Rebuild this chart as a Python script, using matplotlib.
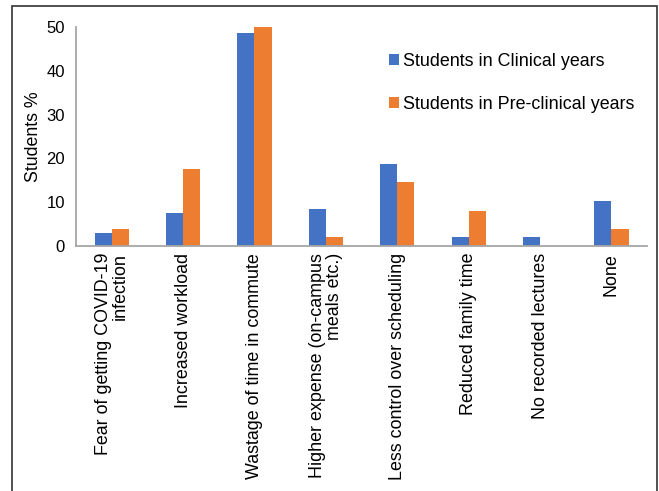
import numpy as np
import matplotlib.pyplot as plt
from matplotlib.patches import Rectangle

#--------------------------------------------------------------------------------------------------------------------------------
#Datos
categorias = ['Fear of getting COVID-19\ninfection', 'Increased workload', 'Wastage of time in commute',
              'Higher expense (on-campus\nmeals etc.)', 'Less control over scheduling', 'Reduced family time',
              'No recorded lectures', 'None']
clinicos = [3.0, 7.6, 48.6, 8.4, 18.7, 2.0, 2.0, 10.3]
preclinicos = [3.9, 17.6, 50.7, 2.0, 14.6, 8.0, 0.0, 3.9]
yticks = [0, 10, 20, 30, 40, 50]

#--------------------------------------------------------------------------------------------------------------------------------
#Grafica
plt.rcParams['font.family'] = ['Liberation Sans', 'DejaVu Sans']

fig = plt.figure(figsize=(6.59, 4.91), dpi=100)
ax = fig.add_axes([0.1153, 0.499, 0.8667, 0.446])

x = np.arange(len(categorias))
w = 0.24
ax.bar(x - w/2, clinicos, w, color='#4472C4', label='Students in Clinical years')
ax.bar(x + w/2, preclinicos, w, color='#ED7D31', label='Students in Pre-clinical years')

ax.set_xlim(-0.5, len(categorias) - 0.5)
ax.set_ylim(0, 50)
ax.set_yticks(yticks)
ax.set_xticks(x)
ax.set_xticklabels(categorias, rotation=90, fontsize=12.9, ha='center', va='top', multialignment='right',
                   linespacing=1.0)
ax.tick_params(axis='y', length=0, pad=8, labelsize=12)
ax.tick_params(axis='x', length=0, pad=5)
ax.set_ylabel('Students %', fontsize=12.8)
ax.yaxis.set_label_coords(-0.059, 0.497)

for s in ['top', 'right']:
    ax.spines[s].set_visible(False)
for s in ['left', 'bottom']:
    ax.spines[s].set_color('#a6a6a6')
    ax.spines[s].set_linewidth(1.3)

ax.legend(loc='upper left', bbox_to_anchor=(0.52, 0.955), frameon=False, fontsize=12.9,
          handlelength=0.55, handleheight=0.55, handletextpad=0.2, labelspacing=1.45)

#marco de la figura
fig.patches.append(Rectangle((12/659, -0.05), 645/659, 1 - 6/491 + 0.05, transform=fig.transFigure,
                             fill=False, edgecolor='#333333', linewidth=1.2))

plt.savefig('out.png', dpi=100)
